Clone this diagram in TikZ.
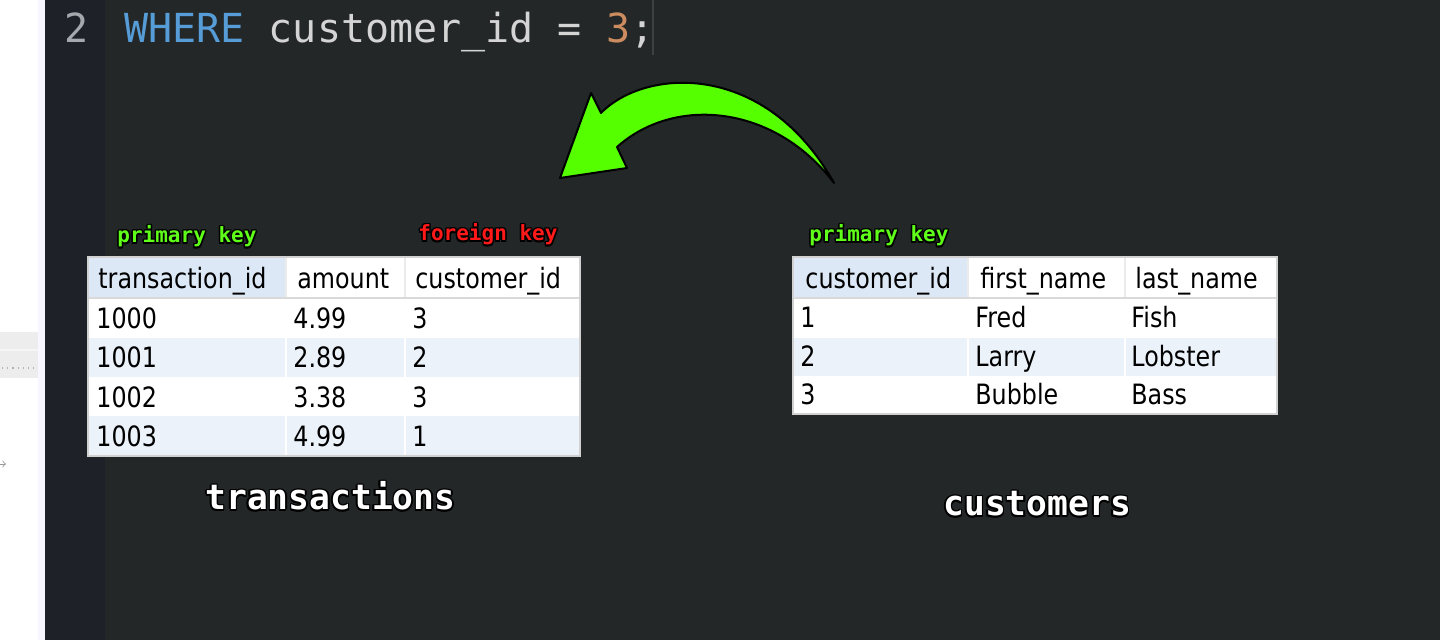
\documentclass[tikz,border=0pt]{standalone}
\usepackage{fontspec}
\usetikzlibrary{positioning}
\newfontfamily\codefont{DejaVu Sans Mono}
\newfontfamily\tabfont[FakeStretch=0.85]{DejaVu Sans}
\definecolor{editorbg}{RGB}{35,39,40}
\definecolor{gutterbg}{RGB}{31,33,40}
\definecolor{rulergrey}{RGB}{62,65,68}
\definecolor{sqlblue}{RGB}{86,156,214}
\definecolor{sqlgrey}{RGB}{212,212,212}
\definecolor{numgrey}{RGB}{165,168,172}
\definecolor{sqlorange}{RGB}{204,140,95}
\definecolor{keygreen}{RGB}{95,255,25}
\definecolor{keyred}{RGB}{255,25,25}
\definecolor{arrowgreen}{RGB}{85,255,0}
\definecolor{headblue}{RGB}{220,232,245}
\definecolor{rowblue}{RGB}{236,242,250}
\tikzset{
  codetext/.style={anchor=base west, inner sep=0pt, font=\codefont\fontsize{20}{20}\selectfont},
  keylabel/.style={anchor=base west, inner sep=0pt, font=\codefont\bfseries\fontsize{10.5}{10.5}\selectfont},
  tabletitle/.style={anchor=base west, inner sep=0pt, font=\codefont\bfseries\fontsize{17.3}{17.3}\selectfont},
  celltext/.style={anchor=base west, inner sep=0pt, text=black, font=\tabfont\fontsize{14}{14}\selectfont},
  tableframe/.style={draw=black!18, line width=1.2pt},
  cellsep/.style={draw=black!8, line width=0.6pt},
  rowshade/.style={fill=rowblue},
  keyshade/.style={fill=headblue},
}
% text with a thin black outline: style, name, x, y, colour, text
\newcommand{\halonode}[6]{%
  \foreach \hx/\hy in {-1.5/0,1.5/0,0/-1.5,0/1.5,-1.1/-1.1,-1.1/1.1,1.1/-1.1,1.1/1.1}
    \node[#1, text=black] at ({#3+\hx},{#4+\hy}) {#6};
  \node[#1, text=#5] (#2) at (#3,#4) {#6};
}
\begin{document}
\begin{tikzpicture}[x=0.5pt, y=-0.5pt]
  \useasboundingbox (0,0) rectangle (1440,640);
  % editor background
  \fill[white] (0,0) rectangle (38,640);
  \fill[black!7] (0,332) rectangle (38,378);
  \draw[black!4, line width=0.8pt] (0,350) -- (38,350);
  \draw[black!30, dotted, line width=0.6pt] (2,368) -- (34,368);
  \draw[black!40, line width=0.4pt, -to] (0,464) -- (6,464);
  \fill[black!2!blue!3] (38,0) rectangle (45,640);
  \fill[editorbg] (45,0) rectangle (1440,640);
  \fill[gutterbg] (45,0) rectangle (105,640);
  \draw[rulergrey, line width=0.8pt] (653,0) -- (653,55);

  % code line
  \node[codetext, text=numgrey] (lineno) at (64,43) {2};
  \node[codetext, text=sqlgrey] (query) at (124,43)
    {\textcolor{sqlblue}{WHERE} customer\_id = \textcolor{sqlorange}{3};};

  % curved arrow from customers to transactions
  \draw[fill=arrowgreen, draw=black, line width=1pt, line join=round]
    (560,178) -- (591,93) -- (601,113)
    .. controls (645,68) and (765,60) .. (834,183)
    .. controls (775,105) and (675,95) .. (617,147)
    -- (627,168) -- cycle;

  % transactions table
  \fill[white] (88,257) rectangle (580,456);
  \fill[keyshade] (88,258) rectangle (286,298);
  \fill[rowshade] (88,338) rectangle (580,377);
  \fill[rowshade] (88,416) rectangle (580,456);
  \foreach \x in {286,405} {
    \draw[cellsep] (\x,258) -- (\x,298);
    \draw[white, line width=1pt] (\x,298) -- (\x,456);
  }
  \draw[black!15, line width=0.8pt] (88,298) -- (580,298);
  \draw[tableframe] (88,257) rectangle (580,456);
  \node[celltext] (trans-h1) at (98,289) {transaction\_id};
  \node[celltext] (trans-h2) at (297,289) {amount};
  \node[celltext] (trans-h3) at (415,289) {customer\_id};
  \foreach \y/\tid/\amt/\cid [count=\r] in {329/1000/4.99/3, 368/1001/2.89/2, 408/1002/3.38/3, 447/1003/4.99/1} {
    \node[celltext] (trans-\r-1) at (96,\y) {\tid};
    \node[celltext] (trans-\r-2) at (293,\y) {\amt};
    \node[celltext] (trans-\r-3) at (412,\y) {\cid};
  }

  % customers table
  \fill[white] (793,257) rectangle (1277,414);
  \fill[keyshade] (793,258) rectangle (968,298);
  \fill[rowshade] (793,338) rectangle (1277,376);
  \foreach \x in {968,1125} {
    \draw[cellsep] (\x,258) -- (\x,298);
    \draw[white, line width=1pt] (\x,298) -- (\x,414);
  }
  \draw[black!15, line width=0.8pt] (793,298) -- (1277,298);
  \draw[tableframe] (793,257) rectangle (1277,414);
  \node[celltext] (cust-h1) at (805,289) {customer\_id};
  \node[celltext] (cust-h2) at (980,289) {first\_name};
  \node[celltext] (cust-h3) at (1135,289) {last\_name};
  \foreach \y/\cid/\first/\last [count=\r] in {328/1/Fred/Fish, 367/2/Larry/Lobster, 405/3/Bubble/Bass} {
    \node[celltext] (cust-\r-1) at (800,\y) {\cid};
    \node[celltext] (cust-\r-2) at (975,\y) {\first};
    \node[celltext] (cust-\r-3) at (1131,\y) {\last};
  }

  % key labels
  \halonode{keylabel}{trans-pk}{117}{243}{keygreen}{primary key}
  \halonode{keylabel}{trans-fk}{418}{241}{keyred}{foreign key}
  \halonode{keylabel}{cust-pk}{809}{242}{keygreen}{primary key}

  % table names
  \halonode{tabletitle}{trans-name}{205}{510}{white}{transactions}
  \halonode{tabletitle}{cust-name}{943}{516}{white}{customers}
\end{tikzpicture}
\end{document}
